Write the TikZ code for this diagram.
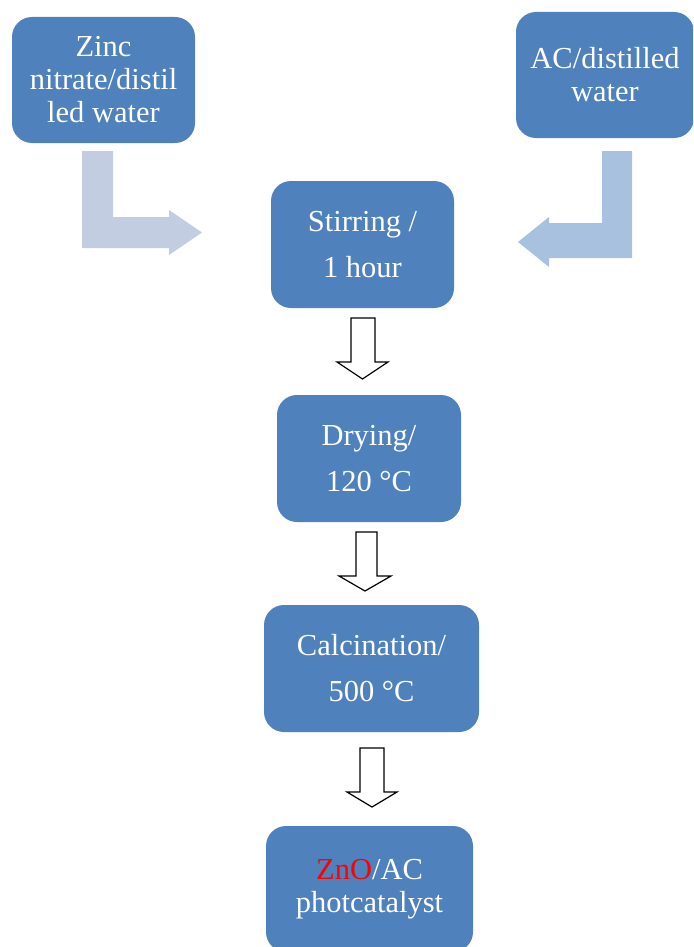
\documentclass[tikz,border=0pt]{standalone}
\usepackage{fontspec}
\setmainfont{Liberation Serif}
\definecolor{boxblue}{RGB}{79,129,189}
\definecolor{arrowgrey}{RGB}{194,205,225}
\definecolor{arrowblue}{RGB}{168,193,223}
\definecolor{znored}{RGB}{255,0,0}
\begin{document}
\begin{tikzpicture}[x=1pt,y=-1pt,
  procbox/.style={fill=boxblue, draw=none, rounded corners=20pt, text=white, align=center, inner sep=0pt},
  threeline/.style={font=\fontsize{30.5}{33}\selectfont},
  twoline/.style={font=\fontsize{30.5}{46}\selectfont},
  downarrow/.style={draw=black, fill=white, line width=1.2pt, line join=miter},
  bentgrey/.style={fill=arrowgrey, draw=none},
  bentblue/.style={fill=arrowblue, draw=none}]
\useasboundingbox (0,0) rectangle (693,947);
\clip (0,0) rectangle (693,947);
% boxes
\node[procbox, threeline, minimum width=183pt, minimum height=126pt] (zinc) at (103.5,80) {Zinc\\nitrate/distil\\led water};
\node[procbox, threeline, minimum width=178pt, minimum height=126pt] (ac) at (605,75) {AC/distilled\\water};
\node[procbox, twoline, minimum width=183pt, minimum height=127pt] (stir) at (362.5,244.5) {Stirring /\\1 hour};
\node[procbox, twoline, minimum width=184pt, minimum height=127pt] (dry) at (369,458.5) {Drying/\\120 °C};
\node[procbox, twoline, minimum width=215pt, minimum height=127pt] (calc) at (371.5,668.5) {Calcination/\\500 °C};
\node[procbox, threeline, minimum width=207pt, minimum height=126pt] (zno) at (369.5,889) {\textcolor{znored}{ZnO}/AC\\photcatalyst};
% bent block arrows
\fill[bentgrey] (82,151) -- (113,151) -- (113,217) -- (169,217) -- (169,210) -- (202,232.5) -- (169,255) -- (169,248) -- (82,248) -- cycle;
\fill[bentblue] (602,151) -- (632,151) -- (632,258) -- (549,258) -- (549,267) -- (518,242) -- (549,217) -- (549,223) -- (602,223) -- cycle;
% down block arrows
\draw[downarrow] (351,318) -- (375,318) -- (375,362) -- (388,362) -- (362.5,379) -- (337,362) -- (351,362) -- cycle;
\draw[downarrow] (356,532) -- (377,532) -- (377,576) -- (391,576) -- (365,591) -- (339,576) -- (356,576) -- cycle;
\draw[downarrow] (360,748) -- (384,748) -- (384,792) -- (397,792) -- (372,807) -- (347,792) -- (360,792) -- cycle;
\end{tikzpicture}
\end{document}
